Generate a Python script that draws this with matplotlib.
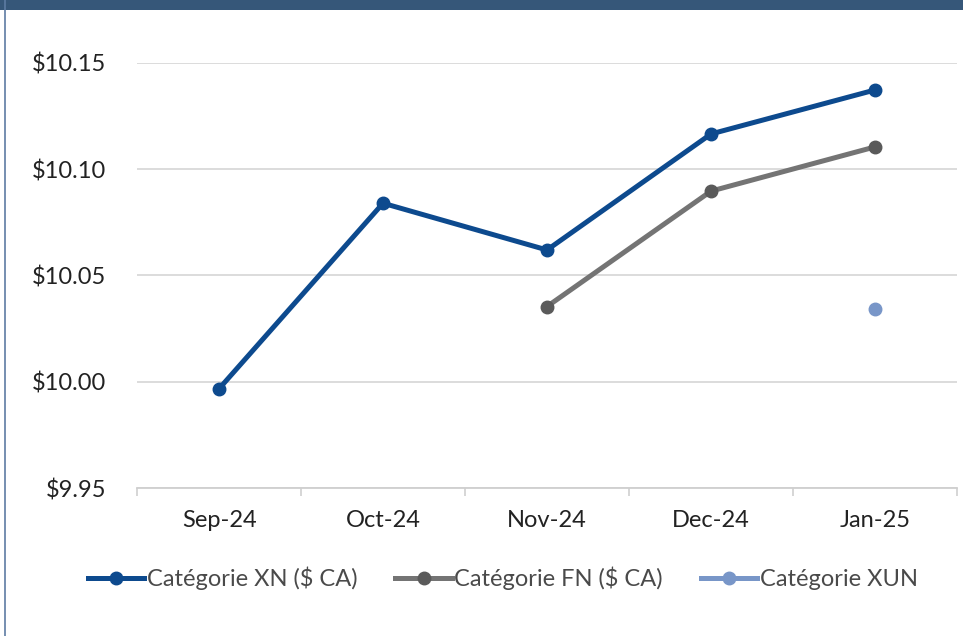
import matplotlib
matplotlib.use("Agg")
import matplotlib.pyplot as plt
import numpy as np
from matplotlib.patches import Rectangle
from matplotlib.lines import Line2D

months = ["Sep-24", "Oct-24", "Nov-24", "Dec-24", "Jan-25"]
xn = [9.9967, 10.084, 10.062, 10.1166, 10.1373]
fn = [np.nan, np.nan, 10.0354, 10.0897, 10.1105]
xun = [np.nan, np.nan, np.nan, np.nan, 10.034]
y_ticks = [9.95, 10.00, 10.05, 10.10, 10.15]

plt.rcParams["font.family"] = ["Lato", "DejaVu Sans"]

fig = plt.figure(figsize=(9.63, 6.36), dpi=100)
ax = fig.add_axes([0.1423, 0.2327, 0.8515, 0.6683])

x = np.arange(len(months))
ax.plot(x, xn, color="#0d4a8e", lw=3.6, marker="o", ms=9, label="Catégorie XN ($ CA)")
ax.plot(x, fn, color="#747474", lw=3.6, marker="o", ms=9, mfc="#5a5a5a", mec="#5a5a5a",
        label="Catégorie FN ($ CA)")
ax.plot(x, xun, color="#7896c8", lw=3.6, marker="o", ms=9, label="Catégorie XUN")

ax.set_xlim(-0.5, len(months) - 0.5)
ax.set_ylim(9.95, 10.15)
ax.set_yticks(y_ticks)
ax.set_yticklabels([f"${v:.2f}" for v in y_ticks])
ax.set_xticks(x)
ax.set_xticklabels(months)
ax.set_xticks(np.arange(-0.5, len(months)), minor=True)
ax.tick_params(axis="x", which="major", length=0, pad=16, labelsize=17, colors="#222222")
ax.tick_params(axis="x", which="minor", length=6, color="#cfcfcf", width=1.2)
ax.tick_params(axis="y", length=0, pad=22, labelsize=17, colors="#222222")
ax.grid(axis="y", color="#d9d9d9", lw=1.3)
ax.set_axisbelow(True)
for s in ["top", "right", "left"]:
    ax.spines[s].set_visible(False)
ax.spines["bottom"].set_color("#cfcfcf")
ax.spines["bottom"].set_linewidth(1.3)

handles = [Line2D([], [], color=c, lw=3.6, marker="o", ms=9, mfc=m, mec=m)
           for c, m in [("#0d4a8e", "#0d4a8e"), ("#747474", "#5a5a5a"), ("#7896c8", "#7896c8")]]
labels = ["Catégorie XN ($ CA)", "Catégorie FN ($ CA)", "Catégorie XUN"]
fig.legend(handles, labels, loc="center", bbox_to_anchor=(0.522, 0.091), ncol=3, frameon=False,
           fontsize=17, handlelength=2.4, handletextpad=0.1, columnspacing=1.6,
           labelcolor="#4a4a4a")

# cadre : bandeau du haut et bordure gauche
fig.add_artist(Rectangle((0, 1 - 10 / 636), 1, 10 / 636, transform=fig.transFigure,
                         color="#365779", lw=0))
fig.add_artist(Line2D([5 / 963, 5 / 963], [0, 1], transform=fig.transFigure,
                      color="#5d7ca3", lw=1.2))

fig.savefig("out.png", dpi=100)
